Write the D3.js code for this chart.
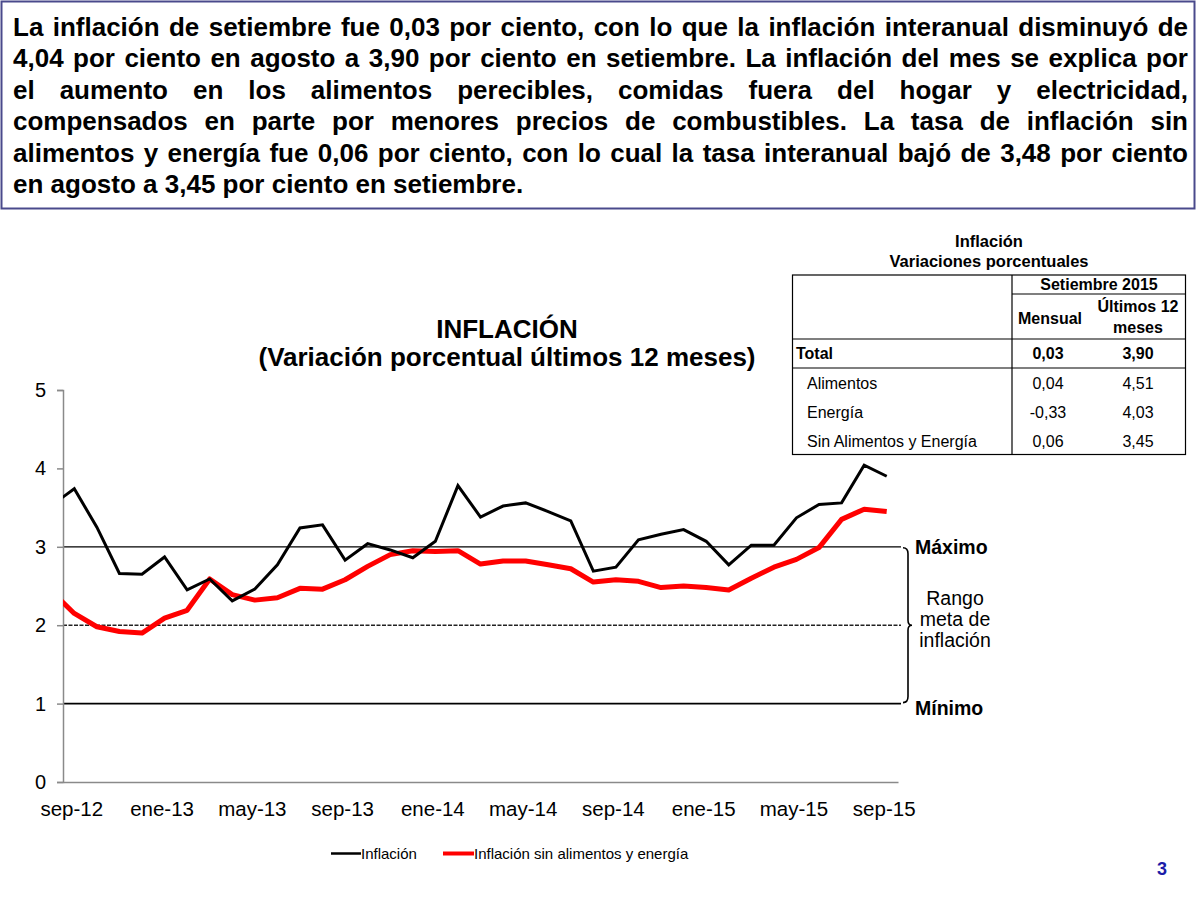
<!DOCTYPE html>
<html>
<head>
<meta charset="utf-8">
<script src="https://cdn.jsdelivr.net/npm/d3@7"></script>
<style>
  html, body { margin: 0; padding: 0; background: #fff; }
  svg { display: block; font-family: Arial, "Liberation Sans", sans-serif; }
</style>
</head>
<body>
<svg id="chart" width="1200" height="900"></svg>
<script>
// ---------------- DATA ----------------
const months = ["ago-12","sep-12","oct-12","nov-12","dic-12",
  "ene-13","feb-13","mar-13","abr-13","may-13","jun-13","jul-13","ago-13","sep-13","oct-13","nov-13","dic-13",
  "ene-14","feb-14","mar-14","abr-14","may-14","jun-14","jul-14","ago-14","sep-14","oct-14","nov-14","dic-14",
  "ene-15","feb-15","mar-15","abr-15","may-15","jun-15","jul-15","ago-15","sep-15"];
const inflacion = [3.53,3.74,3.25,2.66,2.65,
  2.87,2.45,2.59,2.31,2.46,2.77,3.24,3.28,2.83,3.04,2.96,2.86,
  3.07,3.78,3.38,3.52,3.56,3.45,3.33,2.69,2.74,3.09,3.16,3.22,
  3.07,2.77,3.02,3.02,3.37,3.54,3.56,4.04,3.90];
const sinAlimEnergia = [2.43,2.15,1.98,1.92,1.90,
  2.09,2.19,2.59,2.39,2.32,2.35,2.47,2.46,2.58,2.75,2.90,2.95,
  2.94,2.95,2.78,2.82,2.82,2.77,2.72,2.55,2.58,2.56,2.48,2.50,
  2.48,2.45,2.60,2.74,2.84,2.99,3.35,3.48,3.45];
const tickMonths = ["sep-12","ene-13","may-13","sep-13","ene-14","may-14","sep-14","ene-15","may-15","sep-15"];
const yTicks = [0,1,2,3,4,5];
const metaMax = 3, metaCentro = 2, metaMin = 1;
const seriesNames = ["Inflación","Inflación sin alimentos y energía"];

const headerLines = [
  "La inflación de setiembre fue 0,03 por ciento, con lo que la inflación interanual disminuyó de",
  "4,04 por ciento en agosto a 3,90 por ciento en setiembre. La inflación del mes se explica por",
  "el aumento en los alimentos perecibles, comidas fuera del hogar y electricidad,",
  "compensados en parte por menores precios de combustibles. La tasa de inflación sin",
  "alimentos y energía fue 0,06 por ciento, con lo cual la tasa interanual bajó de 3,48 por ciento",
  "en agosto a 3,45 por ciento en setiembre."
];
const tableRows = ["Alimentos","Energía","Sin Alimentos y Energía"];
const tableMensual = ["0,04","-0,33","0,06"];
const tableAnual = ["4,51","4,03","3,45"];
const totalMensual = "0,03", totalAnual = "3,90";

// ---------------- SETUP ----------------
const svg = d3.select("#chart");
const FONT = 'Arial, "Liberation Sans", sans-serif';

// Header box
svg.append("rect").attr("x",1.5).attr("y",1.5).attr("width",1193).attr("height",207)
  .attr("fill","#fff").attr("stroke","#4a4a8c").attr("stroke-width",2);

const hdrSize = 26;
const measure = svg.append("text").attr("font-weight","bold").attr("font-size",hdrSize).attr("visibility","hidden");
const left = 13, right = 1188;
headerLines.forEach((line, i) => {
  const words = line.split(" ");
  const widths = words.map(w => { measure.text(w); return measure.node().getComputedTextLength(); });
  measure.text("a b"); const ab = measure.node().getComputedTextLength();
  measure.text("ab"); const spaceW = ab - measure.node().getComputedTextLength();
  const total = d3.sum(widths);
  const last = i === headerLines.length - 1;
  let gap = last ? spaceW : (right - left - total) / (words.length - 1);
  const t = svg.append("text").attr("y", 36 + i * 31.4).attr("font-weight","bold")
    .attr("font-size",hdrSize).attr("fill","#000");
  let x = left;
  words.forEach((w, j) => { t.append("tspan").attr("x", x).text(w); x += widths[j] + gap; });
});
measure.remove();

// ---------------- CHART ----------------
const x = d3.scaleLinear().domain([0.5, months.length - 0.5]).range([63, 898]);
const y = d3.scaleLinear().domain([0, 5]).range([782, 390]);
const idx = m => months.indexOf(m);

// Title
svg.append("text").attr("x",507).attr("y",338).attr("text-anchor","middle")
  .attr("font-weight","bold").attr("font-size",26).text("INFLACIÓN");
svg.append("text").attr("x",507).attr("y",366).attr("text-anchor","middle")
  .attr("font-weight","bold").attr("font-size",26).text("(Variación porcentual últimos 12 meses)");

// Reference lines
const refEnd = x.range()[1] + 3;
svg.append("line").attr("x1",x.range()[0]).attr("x2",refEnd).attr("y1",y(metaMax)).attr("y2",y(metaMax))
  .attr("stroke","#000").attr("stroke-width",1.3);
svg.append("line").attr("x1",x.range()[0]).attr("x2",refEnd).attr("y1",y(metaCentro)).attr("y2",y(metaCentro))
  .attr("stroke","#222").attr("stroke-width",1.4).attr("stroke-dasharray","4,1.5");
svg.append("line").attr("x1",x.range()[0]).attr("x2",refEnd).attr("y1",y(metaMin)).attr("y2",y(metaMin))
  .attr("stroke","#000").attr("stroke-width",1.6);

// Axes
const yAxis = svg.append("g").attr("transform",`translate(${x.range()[0]},0)`)
  .call(d3.axisLeft(y).tickValues(yTicks).tickSize(6).tickPadding(11).tickFormat(d3.format("d")));
yAxis.select(".domain").attr("stroke","#8a8a8a").attr("stroke-width",1.5);
yAxis.selectAll(".tick line").attr("stroke","#8a8a8a").attr("stroke-width",1.5);
yAxis.selectAll("text").attr("font-size",20).attr("font-family",FONT).attr("fill","#000");

const xAxis = svg.append("g").attr("transform",`translate(0,${y(0)})`)
  .call(d3.axisBottom(x).tickValues(tickMonths.map(idx)).tickSize(0).tickPadding(19)
    .tickFormat(i => months[i]));
xAxis.select(".domain").attr("stroke","#8a8a8a").attr("stroke-width",1.5);
xAxis.selectAll("text").attr("font-size",20.5).attr("font-family",FONT).attr("fill","#000").attr("dx",-3);

// Series
svg.append("clipPath").attr("id","plotclip").append("rect")
  .attr("x",x.range()[0]).attr("y",y.range()[1]-10)
  .attr("width",x.range()[1]-x.range()[0]).attr("height",y.range()[0]-y.range()[1]+10);

const line = d3.line().x((d,i) => x(i)).y(d => y(d));
const plot = svg.append("g").attr("clip-path","url(#plotclip)");
plot.append("path").datum(sinAlimEnergia).attr("d",line).attr("fill","none")
  .attr("stroke","#ff0000").attr("stroke-width",5).attr("stroke-linejoin","round");
plot.append("path").datum(inflacion).attr("d",line).attr("fill","none")
  .attr("stroke","#000").attr("stroke-width",3).attr("stroke-linejoin","miter");

// Brace
const bx = refEnd + 2;
const yT = y(metaMax), yM = y(metaCentro), yB = y(metaMin);
svg.append("path").attr("fill","none").attr("stroke","#000").attr("stroke-width",1.6)
  .attr("d",`M${bx},${yT+1} Q${bx+5},${yT+1} ${bx+5},${yT+7} L${bx+5},${yM-5} Q${bx+5},${yM} ${bx+9},${yM}
             Q${bx+5},${yM} ${bx+5},${yM+5} L${bx+5},${yB-7} Q${bx+5},${yB-1} ${bx},${yB-1}`);

svg.append("text").attr("x",915).attr("y",y(metaMax)+7).attr("font-weight","bold").attr("font-size",19.5).text("Máximo");
svg.append("text").attr("x",915).attr("y",y(metaMin)+11).attr("font-weight","bold").attr("font-size",19.5).text("Mínimo");
["Rango","meta de","inflación"].forEach((s,i) => {
  svg.append("text").attr("x",955).attr("y",y(metaCentro) - 20 + i*21).attr("text-anchor","middle")
    .attr("font-size",19.5).text(s);
});

// Legend
const leg = svg.append("g").attr("font-size",15);
leg.append("line").attr("x1",331).attr("x2",361).attr("y1",853.5).attr("y2",853.5).attr("stroke","#000").attr("stroke-width",2.5);
leg.append("text").attr("x",361).attr("y",859).text(seriesNames[0]);
leg.append("line").attr("x1",443).attr("x2",474).attr("y1",853.5).attr("y2",853.5).attr("stroke","#ff0000").attr("stroke-width",4);
leg.append("text").attr("x",474).attr("y",859).text(seriesNames[1]);

// Page number
svg.append("text").attr("x",1162).attr("y",875).attr("text-anchor","middle").attr("font-weight","bold")
  .attr("font-size",18).attr("fill","#1c1ca8").text("3");

// ---------------- TABLE ----------------
const T = { x0: 792.5, x1: 1185.5, xc: 1012, y0: 275, yH: 294, y1: 339, y2: 368, y3: 454.5 };
svg.append("text").attr("x",989).attr("y",247).attr("text-anchor","middle").attr("font-weight","bold").attr("font-size",16.5).text("Inflación");
svg.append("text").attr("x",989).attr("y",267).attr("text-anchor","middle").attr("font-weight","bold").attr("font-size",16.5).text("Variaciones porcentuales");
const tb = svg.append("g").attr("stroke","#000").attr("stroke-width",1.2);
tb.append("rect").attr("x",T.x0).attr("y",T.y0).attr("width",T.x1-T.x0).attr("height",T.y3-T.y0).attr("fill","none");
tb.append("line").attr("x1",T.xc).attr("x2",T.xc).attr("y1",T.y0).attr("y2",T.y3);
tb.append("line").attr("x1",T.xc).attr("x2",T.x1).attr("y1",T.yH).attr("y2",T.yH);
tb.append("line").attr("x1",T.x0).attr("x2",T.x1).attr("y1",T.y1).attr("y2",T.y1);
tb.append("line").attr("x1",T.x0).attr("x2",T.x1).attr("y1",T.y2).attr("y2",T.y2);

const tt = svg.append("g").attr("font-size",16);
tt.append("text").attr("x",1099).attr("y",290).attr("text-anchor","middle").attr("font-weight","bold").text("Setiembre 2015");
tt.append("text").attr("x",1050).attr("y",324).attr("text-anchor","middle").attr("font-weight","bold").text("Mensual");
tt.append("text").attr("x",1138).attr("y",312).attr("text-anchor","middle").attr("font-weight","bold").text("Últimos 12");
tt.append("text").attr("x",1138).attr("y",333).attr("text-anchor","middle").attr("font-weight","bold").text("meses");
tt.append("text").attr("x",796).attr("y",359).attr("font-weight","bold").text("Total");
tt.append("text").attr("x",1048).attr("y",359).attr("text-anchor","middle").attr("font-weight","bold").text(totalMensual);
tt.append("text").attr("x",1138).attr("y",359).attr("text-anchor","middle").attr("font-weight","bold").text(totalAnual);
tableRows.forEach((r,i) => {
  const yy = 389 + i*29;
  tt.append("text").attr("x",807).attr("y",yy).text(r);
  tt.append("text").attr("x",1048).attr("y",yy).attr("text-anchor","middle").text(tableMensual[i]);
  tt.append("text").attr("x",1138).attr("y",yy).attr("text-anchor","middle").text(tableAnual[i]);
});
</script>
</body>
</html>
